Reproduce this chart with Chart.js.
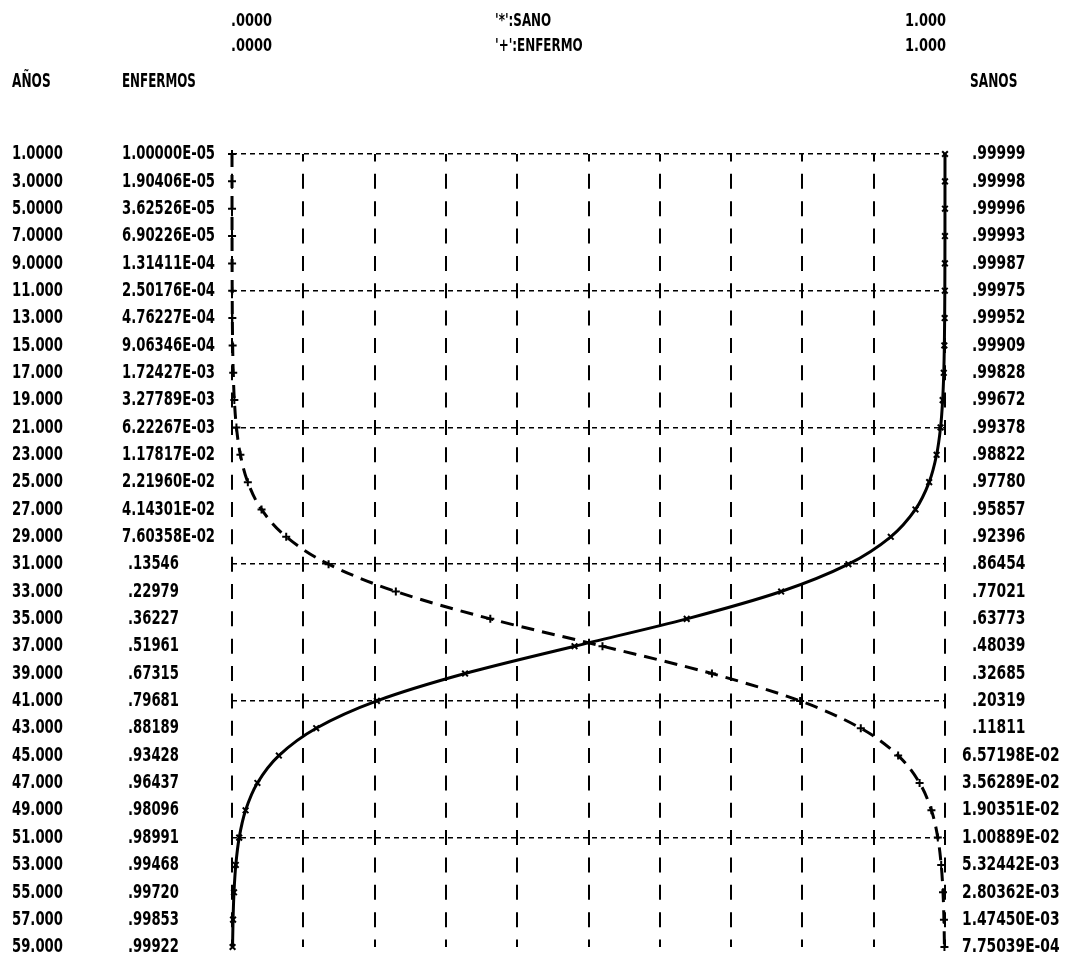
<!DOCTYPE html>
<html>
<head>
<meta charset="utf-8">
<script src="https://cdn.jsdelivr.net/npm/chart.js@4.4.1/dist/chart.umd.min.js"></script>
<style>
  html, body { margin: 0; padding: 0; background: #fff; }
  #wrap { width: 1066px; height: 979px; }
</style>
</head>
<body>
<div id="wrap"><canvas id="plot" width="1066" height="979"></canvas></div>
<script>
const ages = [1, 3, 5, 7, 9, 11, 13, 15, 17, 19, 21, 23, 25, 27, 29,
              31, 33, 35, 37, 39, 41, 43, 45, 47, 49, 51, 53, 55, 57, 59];
const ageLabels = ['1.0000', '3.0000', '5.0000', '7.0000', '9.0000', '11.000', '13.000', '15.000',
                   '17.000', '19.000', '21.000', '23.000', '25.000', '27.000', '29.000', '31.000',
                   '33.000', '35.000', '37.000', '39.000', '41.000', '43.000', '45.000', '47.000',
                   '49.000', '51.000', '53.000', '55.000', '57.000', '59.000'];
const enfermos = [1.00000e-05, 1.90406e-05, 3.62526e-05, 6.90226e-05, 1.31411e-04, 2.50176e-04,
                  4.76227e-04, 9.06346e-04, 1.72427e-03, 3.27789e-03, 6.22267e-03, 1.17817e-02,
                  2.21960e-02, 4.14301e-02, 7.60358e-02, 0.13546, 0.22979, 0.36227, 0.51961,
                  0.67315, 0.79681, 0.88189, 0.93428, 0.96437, 0.98096, 0.98991, 0.99468,
                  0.99720, 0.99853, 0.99922];
const sanos = [0.99999, 0.99998, 0.99996, 0.99993, 0.99987, 0.99975, 0.99952, 0.99909, 0.99828,
               0.99672, 0.99378, 0.98822, 0.97780, 0.95857, 0.92396, 0.86454, 0.77021, 0.63773,
               0.48039, 0.32685, 0.20319, 0.11811, 6.57198e-02, 3.56289e-02, 1.90351e-02,
               1.00889e-02, 5.32442e-03, 2.80362e-03, 1.47450e-03, 7.75039e-04];
const enfLabels = ['1.00000E-05', '1.90406E-05', '3.62526E-05', '6.90226E-05', '1.31411E-04',
                   '2.50176E-04', '4.76227E-04', '9.06346E-04', '1.72427E-03', '3.27789E-03',
                   '6.22267E-03', '1.17817E-02', '2.21960E-02', '4.14301E-02', '7.60358E-02',
                   '.13546', '.22979', '.36227', '.51961', '.67315', '.79681', '.88189', '.93428',
                   '.96437', '.98096', '.98991', '.99468', '.99720', '.99853', '.99922'];
const sanLabels = ['.99999', '.99998', '.99996', '.99993', '.99987', '.99975', '.99952', '.99909',
                   '.99828', '.99672', '.99378', '.98822', '.97780', '.95857', '.92396', '.86454',
                   '.77021', '.63773', '.48039', '.32685', '.20319', '.11811', '6.57198E-02',
                   '3.56289E-02', '1.90351E-02', '1.00889E-02', '5.32442E-03', '2.80362E-03',
                   '1.47450E-03', '7.75039E-04'];
const xTicks = [0, 0.1, 0.2, 0.3, 0.4, 0.5, 0.6, 0.7, 0.8, 0.9, 1.0];
const yGridAges = [1, 11, 21, 31, 41, 51];

// --- disposicion ---
const W = 1066, H = 979;
const pad = { left: 232, right: W - 945, top: 154, bottom: H - 947 };
const rowGap = (H - pad.top - pad.bottom) / (ages.length - 1);
const FONT = 'bold 20px "DejaVu Sans Condensed", "DejaVu Sans", sans-serif';
const FONT_SMALL = 'bold 17px "DejaVu Sans Condensed", "DejaVu Sans", sans-serif';

// texto comprimido a lo ancho, como la impresora de linea
function narrowText(ctx, str, x, y, sx) {
  ctx.save();
  ctx.translate(x, y);
  ctx.scale(sx, 1);
  ctx.fillText(str, 0, 0);
  ctx.restore();
}

// Textos del listado (columnas y cabecera)
const printerText = {
  id: 'printerText',
  afterDraw(chart) {
    const ctx = chart.ctx;
    const y = chart.scales.y;
    const x = chart.scales.x;
    ctx.save();
    ctx.fillStyle = '#000';
    ctx.textBaseline = 'middle';
    ctx.textAlign = 'left';

    ctx.font = FONT;
    const sx = 93 / ctx.measureText('1.00000E-05').width;

    // cabecera superior
    ctx.font = FONT_SMALL;
    const sxs = 41 / ctx.measureText('.0000').width;
    narrowText(ctx, '.0000', x.getPixelForValue(0) - 1, 22, sxs);
    narrowText(ctx, '.0000', x.getPixelForValue(0) - 1, 47, sxs);
    narrowText(ctx, "'*':SANO", 495, 22, sxs * 0.92);
    narrowText(ctx, "'+':ENFERMO", 495, 47, sxs * 0.92);
    ctx.textAlign = 'right';
    narrowText(ctx, '1.000', x.getPixelForValue(1) + 1, 22, sxs);
    narrowText(ctx, '1.000', x.getPixelForValue(1) + 1, 47, sxs);

    // titulos de columna
    ctx.font = FONT;
    ctx.textAlign = 'left';
    narrowText(ctx, 'AÑOS', 12, 82, sx * 0.92);
    narrowText(ctx, 'ENFERMOS', 122, 82, sx * 0.9);
    narrowText(ctx, 'SANOS', 970, 82, sx * 0.92);

    // filas
    ages.forEach((a, i) => {
      const py = y.getPixelForValue(a);
      narrowText(ctx, ageLabels[i], 12, py, sx);
      narrowText(ctx, enfLabels[i], enfLabels[i][0] === '.' ? 128 : 122, py, sx);
      narrowText(ctx, sanLabels[i], sanLabels[i][0] === '.' ? 972 : 962, py, sx * 1.05);
    });
    ctx.restore();
  }
};

const ctx = document.getElementById('plot').getContext('2d');
new Chart(ctx, {
  type: 'line',
  data: {
    datasets: [
      {
        label: 'SANO',
        data: ages.map((a, i) => ({ x: sanos[i], y: a })),
        borderColor: '#000',
        borderWidth: 3,
        pointStyle: 'crossRot',
        pointRadius: 4,
        pointBorderWidth: 2,
        pointBorderColor: '#000',
        cubicInterpolationMode: 'monotone',
        clip: false
      },
      {
        label: 'ENFERMO',
        data: ages.map((a, i) => ({ x: enfermos[i], y: a })),
        borderColor: '#000',
        borderWidth: 3,
        borderDash: [13, 8],
        pointStyle: 'cross',
        pointRadius: 4,
        pointBorderWidth: 2,
        pointBorderColor: '#000',
        cubicInterpolationMode: 'monotone',
        clip: false
      }
    ]
  },
  options: {
    indexAxis: 'y',
    responsive: false,
    animation: false,
    layout: { padding: pad, autoPadding: false },
    plugins: { legend: { display: false }, tooltip: { enabled: false } },
    scales: {
      x: {
        type: 'linear',
        min: 0,
        max: 1,
        afterBuildTicks: (s) => { s.ticks = xTicks.map(v => ({ value: v })); },
        ticks: { display: false },
        grid: { color: '#000', lineWidth: 2, drawTicks: false },
        border: { display: false, dash: [15, rowGap - 15], dashOffset: 7.5 }
      },
      y: {
        type: 'linear',
        reverse: true,
        min: ages[0],
        max: ages[ages.length - 1],
        afterBuildTicks: (s) => { s.ticks = yGridAges.map(v => ({ value: v })); },
        ticks: { display: false },
        grid: { color: '#000', lineWidth: 1.5, drawTicks: false },
        border: { display: false, dash: [5, 4] }
      }
    }
  },
  plugins: [printerText]
});
</script>
</body>
</html>
